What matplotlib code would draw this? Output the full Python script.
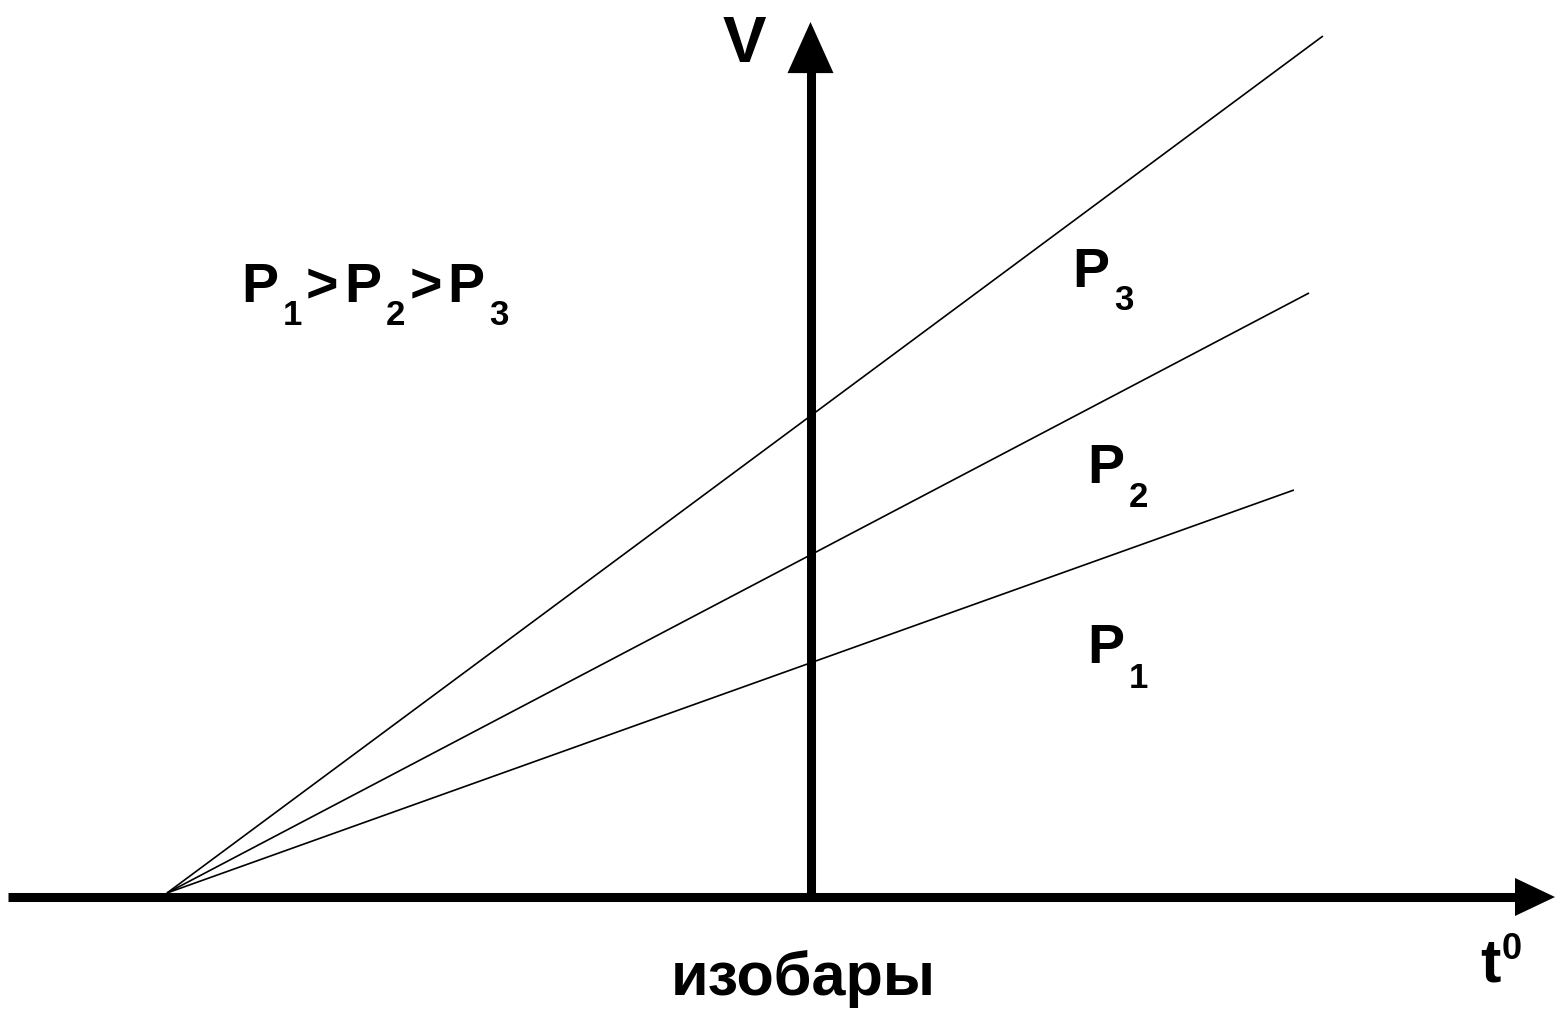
import matplotlib
matplotlib.use("Agg")
import matplotlib.pyplot as plt

# ---- data (isobars: V vs t, all converge at absolute zero) ----
labels = ["P1", "P2", "P3"]
t_start = [-273.0, -273.0, -273.0]
v_start = [0.0, 0.0, 0.0]
t_end = [205.1, 211.5, 217.4]
v_end = [4.03, 6.00, 8.57]

# ---- layout scale (pixels per unit) ----
W, H = 1555, 1010
X0, Y0 = 810.5, 893.0          # pixel of origin (t=0, V=0)
PPD = (810.5 - 167.0) / 273.0  # px per degree
PPV = 100.0                    # px per volume unit

plt.rcParams['font.family'] = ['Liberation Sans', 'DejaVu Sans']

fig = plt.figure(figsize=(W / 100, H / 100), dpi=100)
ax = fig.add_axes([0, 0, 1, 1])
ax.set_xlim(-X0 / PPD, (W - X0) / PPD)
ax.set_ylim(-(H - Y0) / PPV, Y0 / PPV)
ax.axis('off')

def px(x, y):
    return ((x - X0) / PPD, (Y0 - y) / PPV)

# isobar lines
for ts, vs, te, ve in zip(t_start, v_start, t_end, v_end):
    ax.plot([ts, te], [vs, ve], color='black', lw=1.2, solid_capstyle='butt')

# axes lines
axis_lw = 6.5
ax_y = -4.0 / PPV
ax.plot([px(8, 0)[0], px(1520, 0)[0]], [ax_y, ax_y], color='black', lw=axis_lw,
        solid_capstyle='butt')
ax.plot([0, 0], [ax_y, px(0, 70)[1]], color='black', lw=axis_lw,
        solid_capstyle='butt')

# arrow heads
ax.annotate('', xy=(px(1555, 0)[0], ax_y), xytext=(px(1515, 0)[0], ax_y),
            arrowprops=dict(arrowstyle='-|>,head_length=0.4,head_width=0.19',
                            mutation_scale=72, lw=0, fc='black', ec='black',
                            shrinkA=0, shrinkB=0))
ax.annotate('', xy=(0, px(0, 22)[1]), xytext=(0, px(0, 73)[1]),
            arrowprops=dict(arrowstyle='-|>,head_length=0.4,head_width=0.18',
                            mutation_scale=92, lw=0, fc='black', ec='black',
                            shrinkA=0, shrinkB=0))

def ftext(x, y, s, size, ha='left', va='baseline'):
    fig.text(x / W, 1 - y / H, s, fontsize=size, fontweight='bold', ha=ha, va=va,
             color='black')

# axis labels
ftext(744, 62, "V", 47, ha='center')
ftext(1490, 982, "t", 44, ha='center')
ftext(1512, 959, "0", 26, ha='center')
ftext(803, 995, "изобары", 44, ha='center')

# relation text  P1>P2>P3
big, small = 40, 25
ftext(241, 302, "P", big)
ftext(283, 325, "1", small)
ftext(306, 302, ">", big)
ftext(344, 302, "P", big)
ftext(386, 325, "2", small)
ftext(410, 302, ">", big)
ftext(447, 302, "P", big)
ftext(489, 325, "3", small)

# isobar labels
ftext(1072, 287, "P", big)
ftext(1114, 310, "3", small)
ftext(1087, 483, "P", big)
ftext(1129, 507, "2", small)
ftext(1087, 663, "P", big)
ftext(1129, 688, "1", small)

fig.savefig("out.png", dpi=100)
